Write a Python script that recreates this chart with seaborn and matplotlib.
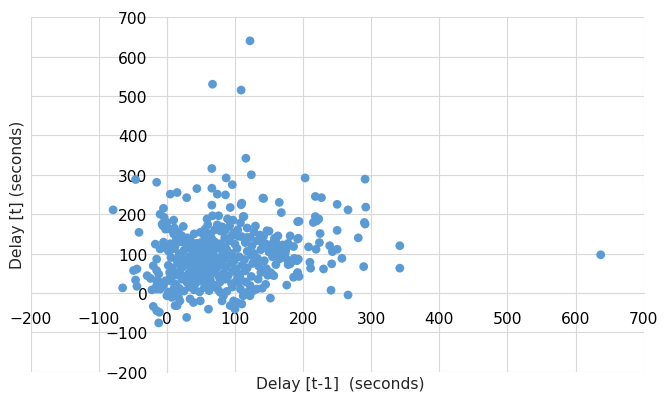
import matplotlib
matplotlib.use("Agg")
import matplotlib.pyplot as plt
import seaborn as sns
import pandas as pd

# ---- data ----
outer_x = [122, 67, 109, 116, 66, 124, 87, 96, 203, -15, -46, 5, 15, 44, 66, 74, 86, 29, 141, 218, 227,
           291, 250, 266, 292, 218, 223, 215, 220, 290, 291, 250, 281, 225, 208, 219, 224, 239, 243, 250,
           257, 210, 211, 230, 242, 289, 342, 342, 637, 241, 266, 194, 193, 191, 193, 192, 194]
outer_y = [640, 530, 515, 342, 316, 300, 292, 275, 292, 281, 288, 251, 255, 265, 266, 251, 249, 242, 241, 245, 242,
           289, 225, 211, 218, 194, 188, 179, 183, 179, 175, 159, 140, 151, 117, 111, 128, 120, 105, 111,
           88, 78, 63, 61, 74, 67, 120, 63, 97, 7, -5, 182, 139, 82, 86, 52, 42]

left_x = [-79, -65, -41, -5, -4, -7, -2, -49, -44, -46, -29, -24, -44, -22, -15, -10, -20, -15, -11, -12, 29, 61, 15,
          -17, -5, -10, 0, -15, -10, 0, 5, 10, -6, -2, -15, -12, -20, -15, -10, -2, 5, 10, 10, 15, 7, 19, 12, 0]
left_y = [211, 13, 154, 215, 192, 175, 169, 57, 61, 33, 44, 37, 17, 8, 10, 12, -34, -45, -49, -76, -62, -41, -32,
          124, 129, 112, 112, 86, 200, 179, 162, 150, 171, 162, 57, 48, 69, 31, 27, 31, 40, 48, 10, 2, -11, -20, -32, -7]

mid_x = [110, 93, 142, 165, 168, 113, 76, 89, 97, 108, 192, 74, 81, 79, 98, 95, 110, 118, 142, 150, 158, 181, 192,
         66, 140, 66, 67, 109, 112, 56, 59, 60, 49, 44, 24, 17, 14, 10, 11, 137, 147, 122, 105, 149, 153, 162, 175,
         171, 165, 176, 187, 178, 186, 191, 176, 152, 154, 157, 152, 132, 127, 122, 112, 108, 105, 108, 104, 100, 98,
         93, 103, 110, 81, 83, 78, 49, 39, 34, 17, 10, 5, 2, -5, -10, -15, 181, 183, 169, 174, 122]
mid_y = [228, 217, 240, 230, 204, 194, 196, 188, 185, 178, 181, 173, 168, 157, 152, 144, 143, 141, 144, 157, 139, 145, 137,
         137, 127, 223, 196, 224, 194, 162, 188, 173, 154, 126, 169, 154, 137, 185, 165, 147, 158, 141, 144, 116, 107, 112, 112,
         103, 86, 86, 88, 72, 40, 48, 20, -13, 48, 44, 52, 10, 6, 19, -7, 10, 27, 36, 40, -41, -20,
         -32, -24, -28, -20, -7, 2, -20, -24, -15, -11, -7, -7, 2, 19, 10, 19, 74, 80, 112, 103, -7]

core_x = [5, 12, 20, 28, 35, 42, 50, 57, 63, 70, 78, 85, 92, 100, 115, 125, 132, 145, 160, 170,
          3, 9, 18, 25, 31, 38, 45, 52, 58, 62, 68, 74, 82, 88, 95, 103, 118, 128, 138, 150, 160,
          6, 14, 21, 27, 33, 39, 44, 48, 54, 60, 65, 71, 77, 84, 91, 99, 106, 114, 124, 133, 143, 155, 168,
          2, 8, 16, 23, 29, 35, 40, 46, 51, 56, 62, 67, 73, 80, 87, 94, 101, 110, 118, 126, 135, 146, 160,
          4, 12, 19, 26, 32, 37, 43, 49, 54, 59, 64, 70, 76, 83, 90, 97, 107, 115, 124, 138, 148,
          6, 13, 22, 30, 36, 41, 47, 53, 58, 64, 71, 78, 86, 95, 102, 116, 134, 145,
          18, 25, 33, 40, 48, 55, 62, 69, 75, 88, 96, 118, 140,
          42, 47, 52, 57, 61, 66, 45, 55, 63, 50, 68, 38, 58, 44, 53, 72, 36, 60,
          104, 118, 128, 100, 86, 92, 130, 70, 40, 30, 22, 55, 64, 85,
          156, 178, 163, 186]
core_y = [125, 118, 130, 122, 132, 118, 128, 135, 120, 130, 125, 118, 132, 124, 128, 120, 133, 125, 130, 122,
          105, 112, 100, 108, 115, 102, 110, 104, 116, 100, 108, 114, 103, 110, 100, 113, 106, 100, 110, 104, 100,
          90, 85, 95, 82, 92, 88, 96, 80, 90, 85, 95, 82, 90, 86, 96, 82, 92, 85, 95, 88, 82, 92, 96,
          70, 64, 75, 66, 72, 62, 76, 68, 60, 74, 66, 78, 63, 71, 65, 76, 62, 70, 64, 75, 68, 62, 72,
          52, 45, 55, 42, 50, 56, 44, 52, 40, 57, 46, 54, 42, 50, 44, 55, 48, 56, 42, 52, 45,
          30, 22, 35, 26, 33, 21, 30, 37, 24, 32, 20, 28, 35, 24, 31, 28, 35, 22,
          12, 5, 15, 8, 3, 14, 6, 16, 9, 4, 15, 2, 12,
          72, 85, 77, 92, 71, 86, 60, 65, 58, 95, 100, 80, 105, 112, 120, 88, 70, 40,
          160, 165, 155, 150, 160, 170, 170, 160, 150, 140, 145, 145, 150, 140,
          128, 126, 145, 118]

x_vals = outer_x + left_x + mid_x + core_x
y_vals = outer_y + left_y + mid_y + core_y
df = pd.DataFrame({"prev": x_vals, "cur": y_vals})

x_ticks = [-200, -100, 0, 100, 200, 300, 400, 500, 600, 700]
y_ticks = [-200, -100, 0, 100, 200, 300, 400, 500, 600, 700]

# ---- figure ----
sns.set_theme(style="white")
plt.rcParams["font.family"] = ["DejaVu Sans"]
fig = plt.figure(figsize=(6.65, 4.02), dpi=100)
ax = fig.add_axes([30.7 / 665, 1 - 372.8 / 402, (643.6 - 30.7) / 665, (372.8 - 18.2) / 402])

sns.scatterplot(data=df, x="prev", y="cur", ax=ax, color="#5B9BD5", s=40,
                linewidth=0, edgecolor="none", zorder=3, clip_on=False)

ax.set_xlim(-200, 700)
ax.set_ylim(-200, 700)
ax.set_xticks(x_ticks)
ax.set_yticks(y_ticks)
ax.grid(True, color="#D9D9D9", linewidth=0.8, zorder=0)
ax.set_axisbelow(True)

for s in ["top", "right"]:
    ax.spines[s].set_visible(False)
ax.spines["left"].set_position(("data", 0))
ax.spines["bottom"].set_position(("data", 0))
for s in ["left", "bottom"]:
    ax.spines[s].set_color("#D9D9D9")
    ax.spines[s].set_linewidth(0.8)
    ax.spines[s].set_zorder(0.5)

ax.tick_params(axis="both", length=0, labelsize=11.2, colors="#000000")
ax.tick_params(axis="x", pad=13)
ax.tick_params(axis="y", pad=14)
ax.set_xlabel("")
ax.set_ylabel("")

fig.text(340 / 665, 1 - 385 / 402, "Delay [t-1]  (seconds)", ha="center", va="center", fontsize=11.2)
fig.text(18 / 665, 1 - 195 / 402, "Delay [t] (seconds)", ha="center", va="center",
         rotation=90, fontsize=11.2)

fig.savefig("out.png", dpi=100)
